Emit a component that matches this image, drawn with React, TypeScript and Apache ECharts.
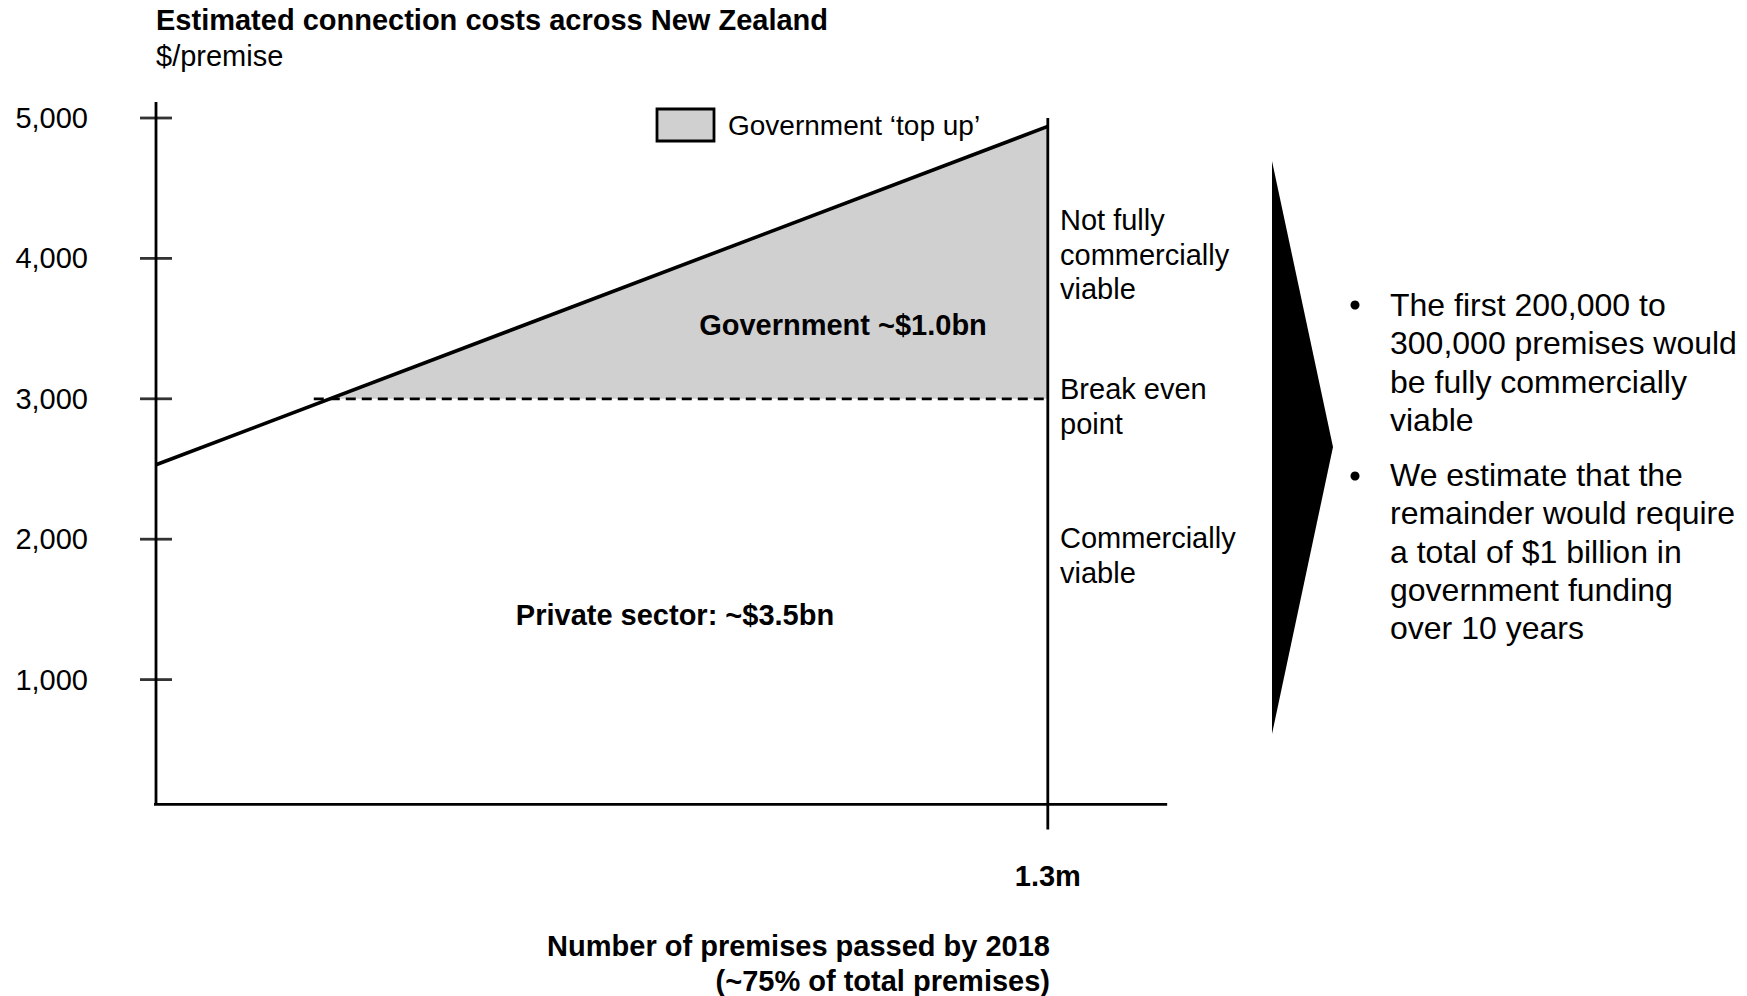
import React, { useEffect, useRef } from "react";
import * as echarts from "echarts";

// ---- data ----
const TITLE = "Estimated connection costs across New Zealand";
const UNIT = "$/premise";
const yTicks = [1000, 2000, 3000, 4000, 5000];
const costX = [0, 1.3]; // millions of premises passed
const costY = [2530, 4940]; // $/premise
const breakEven = 3000;
const breakEvenStartX = 0.23;
const axisBaseY = 111;
const yAxisTop = 5114;
const xAxisRange = [-0.068, 1.474];
const marketX = 1.3;
const marketLineRange = [-67, 5000];
const xTickLabel = "1.3m";
const legendLabel = "Government \u2018top up\u2019";
const areaLabels = ["Government ~$1.0bn", "Private sector: ~$3.5bn"];
const regionLabels = ["Not fully\ncommercially\nviable", "Break even\npoint", "Commercially\nviable"];
const bulletTexts = [
  "The first 200,000 to\n300,000 premises would\nbe fully commercially\nviable",
  "We estimate that the\nremainder would require\na total of $1 billion in\ngovernment funding\nover 10 years",
];
const xAxisName = "Number of premises passed by 2018\n(~75% of total premises)";

const FONT = "'Liberation Sans', Arial, Helvetica, sans-serif";

function lineAt(x: number) {
  return costY[0] + ((costY[1] - costY[0]) * (x - costX[0])) / (costX[1] - costX[0]);
}

export default function App() {
  const ref = useRef<HTMLDivElement>(null);
  useEffect(() => {
    if (!ref.current) return;
    const chart = echarts.init(ref.current, null, { renderer: "svg" });
    const xCross = costX[0] + ((breakEven - costY[0]) * (costX[1] - costX[0])) / (costY[1] - costY[0]);
    const black = "#000000";
    const lineSeries = (data: number[][], width: number, type: any = "solid", z = 3) => ({
      type: "line",
      data,
      symbol: "none",
      clip: false,
      silent: true,
      z,
      lineStyle: { color: black, width, type },
    });
    const txt = (text: string, x: number, y: number, size: number, weight: string, align: string, vAlign: string, lineHeight?: number) => ({
      type: "text",
      x,
      y,
      z: 100,
      silent: true,
      style: {
        text,
        fontSize: size,
        fontWeight: weight,
        fontFamily: FONT,
        fill: black,
        align,
        verticalAlign: vAlign,
        textAlign: align,
        textVerticalAlign: vAlign,
        lineHeight: lineHeight || Math.round(size * 1.2),
      },
    });

    chart.setOption({
      animation: false,
      backgroundColor: "#ffffff",
      grid: { left: 156, right: 562, top: 118, bottom: 176, containLabel: false, outerBoundsMode: "none" },
      xAxis: {
        type: "value",
        min: 0,
        max: 1.5,
        interval: 0.1,
        axisLine: { show: false },
        axisTick: { show: false },
        splitLine: { show: false },
        axisLabel: {
          interval: 0,
          margin: 41,
          fontSize: 29,
          fontWeight: "bold",
          fontFamily: FONT,
          color: black,
          formatter: (v: number) => (Math.abs(v - marketX) < 1e-6 ? xTickLabel : ""),
        },
      },
      yAxis: {
        type: "value",
        min: 0,
        max: 5000,
        interval: 1000,
        axisLine: { show: false },
        axisTick: { show: false },
        splitLine: { show: false },
        axisLabel: {
          margin: 68,
          fontSize: 29,
          fontFamily: FONT,
          color: black,
          formatter: (v: number) => (v === 0 ? "" : v.toLocaleString("en-US")),
        },
      },
      series: [
        {
          type: "custom",
          silent: true,
          z: 1,
          data: [[xCross, breakEven]],
          renderItem: (_p: any, api: any) => {
            const pts = [
              api.coord([xCross, breakEven]),
              api.coord([costX[1], lineAt(costX[1])]),
              api.coord([costX[1], breakEven]),
            ];
            return { type: "polygon", shape: { points: pts }, style: { fill: "#d0d0d0" } };
          },
        },
        lineSeries([[breakEvenStartX, breakEven], [marketX, breakEven]], 2.8, [10, 6], 2),
        lineSeries([[0, axisBaseY], [0, yAxisTop]], 2.8),
        lineSeries([[xAxisRange[0], axisBaseY], [xAxisRange[1], axisBaseY]], 2.8),
        lineSeries([[marketX, marketLineRange[0]], [marketX, marketLineRange[1]]], 2.8),
        lineSeries(costX.map((x, i) => [x, costY[i]]), 3.6, "solid", 4),
        {
          type: "scatter",
          symbol: "rect",
          symbolSize: [32, 2.8],
          clip: false,
          silent: true,
          itemStyle: { color: black },
          data: yTicks.map((v) => [0, v]),
        },
      ],
      graphic: [
        txt(TITLE, 156, 20, 29, "bold", "left", "middle"),
        txt(UNIT, 156, 56, 29, "normal", "left", "middle"),
        {
          type: "rect",
          silent: true,
          z: 100,
          shape: { x: 657, y: 109, width: 57, height: 32 },
          style: { fill: "#d0d0d0", stroke: black, lineWidth: 2.8 },
        },
        txt(legendLabel, 728, 125, 28, "normal", "left", "middle"),
        txt(areaLabels[0], 843, 325, 29, "bold", "center", "middle"),
        txt(areaLabels[1], 675, 615, 29, "bold", "center", "middle"),
        txt(regionLabels[0], 1060, 203, 29, "normal", "left", "top", 34.5),
        txt(regionLabels[1], 1060, 372, 29, "normal", "left", "top", 34.5),
        txt(regionLabels[2], 1060, 521, 29, "normal", "left", "top", 34.5),
        {
          type: "polygon",
          silent: true,
          z: 100,
          shape: { points: [[1272, 161], [1333, 447], [1272, 734]] },
          style: { fill: black },
        },
        { type: "circle", silent: true, z: 100, shape: { cx: 1355, cy: 305, r: 4.5 }, style: { fill: black } },
        { type: "circle", silent: true, z: 100, shape: { cx: 1355, cy: 476, r: 4.5 }, style: { fill: black } },
        txt(bulletTexts[0], 1390, 286, 32, "normal", "left", "top", 38.3),
        txt(bulletTexts[1], 1390, 456, 32, "normal", "left", "top", 38.3),
        txt(xAxisName, 1050, 929, 29, "bold", "right", "top", 34.5),
      ],
    });
    return () => chart.dispose();
  }, []);
  return <div ref={ref} style={{ position: "fixed", left: 0, top: 0, width: 1747, height: 996 }} />;
}
